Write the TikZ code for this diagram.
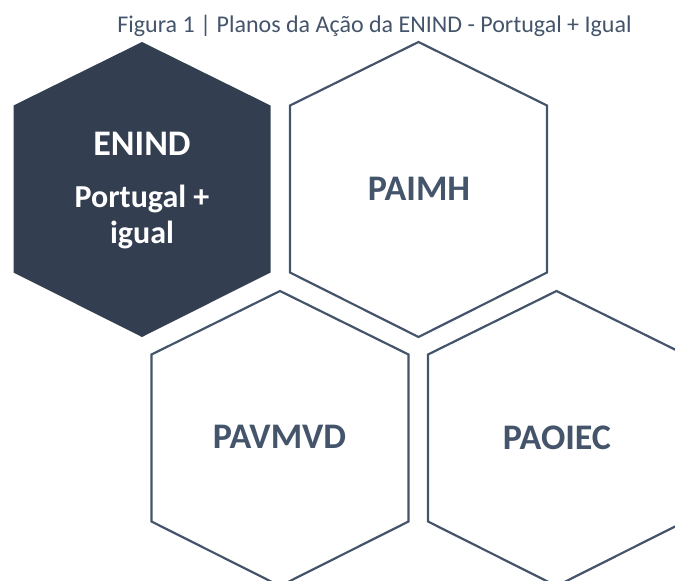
\documentclass[tikz,border=0pt]{standalone}
\usepackage{fontspec}
\setmainfont{Carlito}
\usepackage{xcolor}
\definecolor{navyfill}{RGB}{51,63,80}
\definecolor{slateline}{RGB}{68,84,106}
\tikzstyle{hexline} = [line width=2.2pt, draw=slateline, line join=miter]
\tikzstyle{hexfill} = [fill=navyfill]
\tikzstyle{plano} = [font=\fontsize{36}{43}\selectfont\bfseries, text=slateline, inner sep=0pt]
\tikzstyle{lema} = [font=\fontsize{32}{38}\selectfont\bfseries, text=white, inner sep=0pt]
\tikzstyle{titulo} = [font=\fontsize{24}{29}\selectfont, text=slateline, inner sep=0pt]

\begin{document}
\begin{tikzpicture}[x=1pt, y=-1pt]
\useasboundingbox (0,0) rectangle (675,581);
\clip (0,0) rectangle (675,581);

% Hexagon centres
\coordinate (h1) at (142,189.5);
\coordinate (h2) at (418.5,189.5);
\coordinate (h3) at (280,438.5);
\coordinate (h4) at (556.5,438.5);

% Dark hexagon
\fill[hexfill, shift={(h1)}] (0,-147.5) -- (128.5,-84) -- (128.5,83) -- (0,147.5) -- (-128.5,83) -- (-128.5,-84) -- cycle;

% Outlined hexagons
\foreach \h in {h2,h3,h4} {
    \draw[hexline, shift={(\h)}] (0,-147.5) -- (128.5,-84) -- (128.5,83) -- (0,147.5) -- (-128.5,83) -- (-128.5,-84) -- cycle;
}

% Title
\node[titulo, anchor=base] (titulo) at (374.5,32) {Figura 1 | Planos da Ação da ENIND - Portugal + Igual};

% Labels
\node[plano, text=white] (enind) at (142,144) {ENIND};
\node[lema, anchor=base] (portugal) at (142,207) {Portugal +};
\node[lema, anchor=base] (igual) at (142,243) {igual};
\node[plano] (paimh) at (419,188.5) {PAIMH};
\node[plano] (pavmvd) at (279.5,437) {PAVMVD};
\node[plano] (paoiec) at (557,437.5) {PAOIEC};
\end{tikzpicture}
\end{document}
